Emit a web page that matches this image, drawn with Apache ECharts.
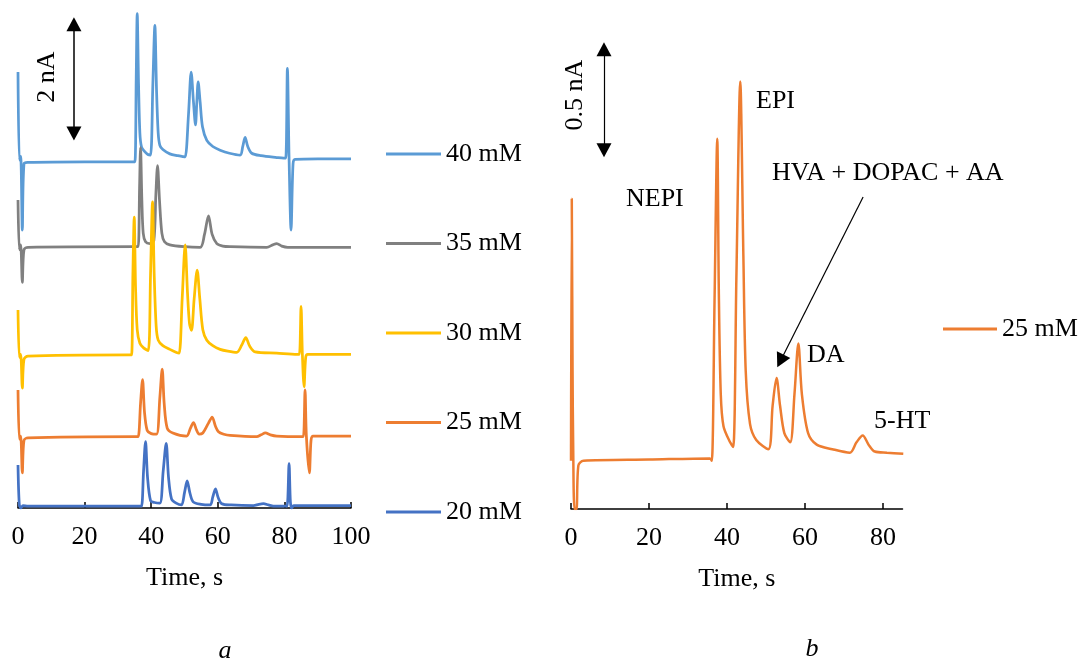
<!DOCTYPE html>
<html>
<head>
<meta charset="utf-8">
<script src="https://cdn.jsdelivr.net/npm/echarts@6/dist/echarts.min.js"></script>
<style>
  html, body { margin: 0; padding: 0; background: #fff; }
  #main { width: 1082px; height: 663px; }
</style>
</head>
<body>
<div id="main"></div>
<script>
// time (s), current (nA, traces offset like in the figure)
var s40 = [
  [0, 7.09], [0.4, 5.66], [0.8, 5.72], [1.3, 4.52], [1.8, 5.6], [3, 5.62], [20, 5.63], [34.5, 5.63], [35.1, 5.63],
  [35.5, 7.0], [35.8, 8.04], [36.2, 6.9], [36.6, 6.1], [37.1, 5.87], [38, 5.8], [39, 5.75], [39.8, 5.74],
  [40.5, 6.9], [41.1, 7.85], [41.6, 6.8], [42.1, 6.1], [42.6, 5.9], [43.5, 5.83], [45.6, 5.76], [48, 5.73], [49.6, 5.715], [50.2, 5.71],
  [51.2, 6.4], [52.0, 7.09], [52.7, 6.6], [53.3, 6.23], [53.7, 6.6], [54.1, 6.93], [54.7, 6.6], [55.4, 6.2],
  [56.7, 5.98], [58.5, 5.88], [60.7, 5.82], [63.5, 5.77], [66.7, 5.74],
  [67.5, 5.88], [68.2, 6.03], [69, 5.88], [70.2, 5.77], [73, 5.73], [77.7, 5.7], [79.8, 5.69], [80.4, 5.69],
  [80.9, 7.15], [81.4, 5.7], [82.0, 4.52], [82.6, 5.6], [83.2, 5.67], [90, 5.68], [100, 5.68]
]
var s35 = [
  [0, 5.01], [0.4, 4.2], [0.8, 4.28], [1.3, 3.67], [1.8, 4.2], [3, 4.24], [35.5, 4.25], [36.1, 4.25],
  [36.5, 5.2], [36.8, 5.86], [37.2, 5.0], [37.6, 4.47], [38.3, 4.33], [39.6, 4.3],
  [40.8, 4.35], [41.4, 5.1], [41.9, 5.57], [42.5, 5.0], [43.2, 4.47], [44, 4.33], [45.6, 4.28], [50, 4.25], [54.7, 4.24],
  [56.0, 4.45], [57.2, 4.75], [58.3, 4.45], [59.7, 4.3], [61.5, 4.26], [63.7, 4.25], [74.7, 4.24],
  [76.5, 4.28], [77.7, 4.3], [79.2, 4.26], [81, 4.24], [100, 4.24]
]
var s30 = [
  [0, 3.22], [0.4, 2.45], [0.8, 2.5], [1.3, 1.95], [1.8, 2.42], [3, 2.47], [33.5, 2.49], [34.1, 2.49],
  [34.5, 3.8], [34.9, 4.73], [35.3, 3.6], [35.8, 2.9], [36.6, 2.68], [37.8, 2.6], [39.1, 2.56],
  [39.8, 3.8], [40.4, 4.98], [40.9, 3.8], [41.5, 2.95], [42.1, 2.73], [43.5, 2.64], [45.6, 2.58], [47.6, 2.53], [48.4, 2.52],
  [49.3, 3.4], [50.2, 4.28], [50.9, 3.5], [51.5, 3.0], [52.1, 2.89], [52.9, 3.4], [53.8, 3.87], [54.6, 3.4],
  [55.5, 2.9], [56.7, 2.73], [58.5, 2.64], [60.7, 2.58], [63, 2.55], [65.7, 2.53],
  [67.2, 2.65], [68.4, 2.77], [69.6, 2.63], [71.2, 2.54], [77.7, 2.52], [83.9, 2.5], [84.5, 2.5],
  [85.0, 3.28], [85.4, 2.5], [85.9, 1.97], [86.4, 2.45], [87, 2.5], [100, 2.5]
]
var s25 = [
  [0, 1.92], [0.4, 1.12], [0.8, 1.17], [1.3, 0.57], [1.8, 1.1], [3, 1.14], [35.5, 1.16], [36.1, 1.16],
  [36.8, 1.7], [37.4, 2.09], [38.0, 1.55], [38.8, 1.26], [40, 1.21], [41.6, 1.2],
  [42.6, 1.8], [43.3, 2.26], [43.9, 1.7], [44.8, 1.3], [46.5, 1.22], [50.6, 1.17],
  [51.8, 1.3], [52.7, 1.39], [53.6, 1.27], [54.4, 1.2], [55.5, 1.22], [57.2, 1.38], [58.3, 1.48], [59.3, 1.33],
  [60.2, 1.24], [61.8, 1.2], [63.7, 1.18], [71.7, 1.16],
  [73, 1.19], [74.3, 1.22], [75.8, 1.19], [77.7, 1.17], [85.1, 1.16], [85.7, 1.16],
  [86.2, 1.92], [86.6, 1.17], [87.5, 0.57], [88, 1.1], [88.6, 1.17], [100, 1.17]
]
var s20 = [
  [0, 0.7], [0.4, 0.05], [0.9, 0.0], [1.5, 0.04], [3, 0.03], [36.5, 0.03], [37.1, 0.03],
  [37.7, 0.6], [38.3, 1.08], [38.9, 0.5], [39.8, 0.12], [41, 0.09], [42.6, 0.08],
  [43.6, 0.6], [44.5, 1.05], [45.2, 0.5], [46.1, 0.15], [47.5, 0.08], [49.1, 0.05],
  [50.0, 0.25], [50.8, 0.44], [51.6, 0.25], [52.6, 0.1], [55, 0.06], [57.7, 0.05],
  [58.5, 0.18], [59.3, 0.31], [60.1, 0.17], [61.2, 0.07], [64, 0.05], [70.7, 0.04],
  [72.3, 0.06], [73.7, 0.07], [75.2, 0.05], [76.7, 0.03], [80.2, 0.03], [80.8, 0.03],
  [81.4, 0.72], [81.8, 0.1], [82.2, 0.0], [82.8, 0.04], [100, 0.04]
]
// panel b, 25 mM
var s25b = [
  [0, 0.21], [0.2, 1.35], [0.4, 0.6], [0.55, 0.29], [0.9, 0.0], [1.4, 0.0], [1.9, 0.19], [3.2, 0.21], [20, 0.215], [35.6, 0.22],
  [36.1, 0.21], [36.8, 0.9], [37.5, 1.61], [37.9, 0.95], [38.4, 0.5], [39.1, 0.36], [40.8, 0.29], [41.6, 0.27],
  [42.4, 1.0], [43.4, 1.86], [44.2, 1.1], [44.8, 0.6], [45.9, 0.37], [47.5, 0.3], [50.6, 0.26],
  [51.7, 0.45], [52.7, 0.57], [53.6, 0.45], [54.7, 0.33], [56.2, 0.29],
  [57.3, 0.5], [58.3, 0.72], [59.2, 0.5], [60.8, 0.33], [63.0, 0.28], [67, 0.26], [71.5, 0.245],
  [73.2, 0.29], [74.8, 0.32], [76.3, 0.28], [77.9, 0.25], [81, 0.245], [85.2, 0.24]
]

var names = ['40 mM', '35 mM', '30 mM', '25 mM', '20 mM']
var colors = ['#5B9BD5', '#808080', '#FFC000', '#ED7D31', '#4472C4']
var traces = [s40, s35, s30, s25, s20]

var font = 'Liberation Serif'
var chart = echarts.init(document.getElementById('main'))

function xAxisFor(gridIndex, max) {
  return {
    gridIndex: gridIndex,
    type: 'value',
    min: 0,
    max: max,
    interval: 20,
    name: 'Time, s',
    nameLocation: 'middle',
    nameGap: 57,
    nameTextStyle: { fontFamily: font, fontSize: 26, color: '#000' },
    axisLine: { lineStyle: { color: '#000', width: 1.5 } },
    axisTick: { inside: true, length: 6, lineStyle: { color: '#000', width: 1.5 } },
    axisLabel: { fontFamily: font, fontSize: 26, color: '#000', margin: 16, showMaxLabel: max % 20 === 0 },
    splitLine: { show: false }
  }
}

var series = []
for (var i = 0; i < traces.length; i++) {
  series.push({
    name: names[i],
    type: 'line',
    xAxisIndex: 0,
    yAxisIndex: 0,
    data: traces[i],
    symbol: 'none',
    smooth: 0.3,
    silent: true,
    lineStyle: { color: colors[i], width: 2.75 },
    itemStyle: { color: colors[i] }
  })
}
// scale bar 2 nA on panel a
series[0].markLine = {
  silent: true,
  symbol: ['triangle', 'triangle'],
  symbolSize: [15, 14],
  label: { show: false },
  lineStyle: { color: '#000', width: 1.5, type: 'solid' },
  data: [[{ coord: [16.8, 7.87] }, { coord: [16.8, 6.09] }]]
}

series.push({
  name: '25 mM',
  type: 'line',
  xAxisIndex: 1,
  yAxisIndex: 1,
  data: s25b,
  symbol: 'none',
  smooth: 0.3,
  silent: true,
  lineStyle: { color: '#ED7D31', width: 2.5 },
  itemStyle: { color: '#ED7D31' },
  markLine: {
    silent: true,
    label: { show: false },
    lineStyle: { color: '#000', width: 1.2, type: 'solid' },
    symbolSize: [15, 14],
    data: [
      // 0.5 nA scale bar
      [{ coord: [8.46, 2.0], symbol: 'triangle' }, { coord: [8.46, 1.56], symbol: 'triangle' }],
      // arrow to the HVA + DOPAC + AA peak
      [{ coord: [74.9, 1.357], symbol: 'none' }, { coord: [53.7, 0.644], symbol: 'triangle' }]
    ]
  }
})

function txt(x, y, s, opts) {
  opts = opts || {}
  return {
    type: 'text',
    x: x,
    y: y,
    rotation: opts.rotation || 0,
    silent: true,
    style: {
      text: s,
      fill: '#000',
      font: (opts.italic ? 'italic ' : '') + '26px "Liberation Serif"',
      align: opts.align || 'left',
      verticalAlign: 'middle'
    }
  }
}

var option = {
  backgroundColor: '#fff',
  animation: false,
  grid: [
    { left: 18, top: 10, width: 333, height: 498, outerBoundsMode: 'none' },
    { left: 571, top: 40, width: 331.5, height: 469, outerBoundsMode: 'none' }
  ],
  xAxis: [xAxisFor(0, 100), xAxisFor(1, 85)],
  yAxis: [
    { gridIndex: 0, type: 'value', min: 0, max: 8.1, show: false },
    { gridIndex: 1, type: 'value', min: 0, max: 2.04, show: false }
  ],
  legend: [
    {
      data: names,
      orient: 'vertical',
      left: 386,
      top: 141,
      padding: 0,
      itemWidth: 55,
      itemHeight: 3,
      itemGap: 63.5,
      icon: 'rect',
      selectedMode: false,
      textStyle: { fontFamily: font, fontSize: 26, color: '#000', lineHeight: 26 }
    },
    {
      data: ['25 mM'],
      orient: 'vertical',
      left: 943,
      top: 316,
      padding: 0,
      itemWidth: 54,
      itemHeight: 3,
      icon: 'rect',
      selectedMode: false,
      textStyle: { fontFamily: font, fontSize: 26, color: '#000', lineHeight: 26 }
    }
  ],
  graphic: [
    txt(47, 77, '2 nA', { rotation: Math.PI / 2, align: 'center' }),
    txt(575, 95, '0.5 nA', { rotation: Math.PI / 2, align: 'center' }),
    txt(626, 199, 'NEPI'),
    txt(756, 101, 'EPI'),
    txt(772, 173, 'HVA + DOPAC + AA'),
    txt(807, 355, 'DA'),
    txt(874, 421, '5-HT'),
    txt(225, 651, 'a', { italic: true, align: 'center' }),
    txt(812, 649, 'b', { italic: true, align: 'center' })
  ],
  series: series
}

chart.setOption(option)
</script>
</body>
</html>
